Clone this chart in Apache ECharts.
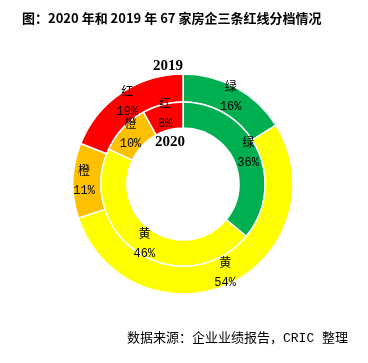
<!DOCTYPE html>
<html><head><meta charset="utf-8">
<script src="https://cdn.jsdelivr.net/npm/echarts@6/dist/echarts.min.js"></script>
<style>html,body{margin:0;padding:0;background:#fff}#c{width:368px;height:363px}</style>
</head><body><div id="c"></div>
<script>
const categories = ['绿', '黄', '橙', '红'];
const colors = ['#00B050', '#FFFF00', '#FFC000', '#FF0000'];
const values2019 = [16, 54, 11, 19];
const values2020 = [36, 46, 10, 8];
const titleText = '图：2020 年和 2019 年 67 家房企三条红线分档情况';
const sourceText = '数据来源：企业业绩报告，CRIC 整理';

function mk(vals) {
  return categories.map((c, i) => ({ name: c, value: vals[i], itemStyle: { color: colors[i] } }));
}
const labelStyle = {
  show: true, position: 'inside',
  formatter: p => p.name + '\n' + p.value + '%',
  color: '#000', fontSize: 12, lineHeight: 19,
  fontFamily: "'Liberation Mono', 'Noto Sans CJK SC', monospace"
};
const chart = echarts.init(document.getElementById('c'), null, { renderer: 'canvas' });
chart.setOption({
  animation: false,
  graphic: [
    { type: 'text', left: 22, top: 12, style: { text: titleText, font: "bold 13px 'Noto Sans CJK SC'", fill: '#000' } },
    { type: 'text', right: 20, top: 332, style: { text: sourceText, font: "13px 'Liberation Mono', 'Noto Sans CJK SC'", fill: '#000' } },
    { type: 'text', x: 168, y: 66, style: { text: '2019', font: "bold 15px 'Liberation Serif'", fill: '#000', align: 'center', verticalAlign: 'middle' } },
    { type: 'text', x: 170, y: 142, style: { text: '2020', font: "bold 15px 'Liberation Serif'", fill: '#000', align: 'center', verticalAlign: 'middle' } }
  ],
  series: [
    {
      type: 'pie', center: [183, 184], radius: [82, 110], startAngle: 90, clockwise: true,
      avoidLabelOverlap: false, minShowLabelAngle: 0,
      data: mk(values2019), label: labelStyle, labelLine: { show: false },
      labelLayout: { hideOverlap: false },
      itemStyle: { borderColor: '#fff', borderWidth: 1.5 }, emphasis: { disabled: true }
    },
    {
      type: 'pie', center: [183, 184], radius: [56, 82], startAngle: 90, clockwise: true,
      avoidLabelOverlap: false, minShowLabelAngle: 0,
      data: mk(values2020), label: labelStyle, labelLine: { show: false },
      labelLayout: { hideOverlap: false },
      itemStyle: { borderColor: '#fff', borderWidth: 1.5 }, emphasis: { disabled: true }
    }
  ]
});
</script></body></html>
